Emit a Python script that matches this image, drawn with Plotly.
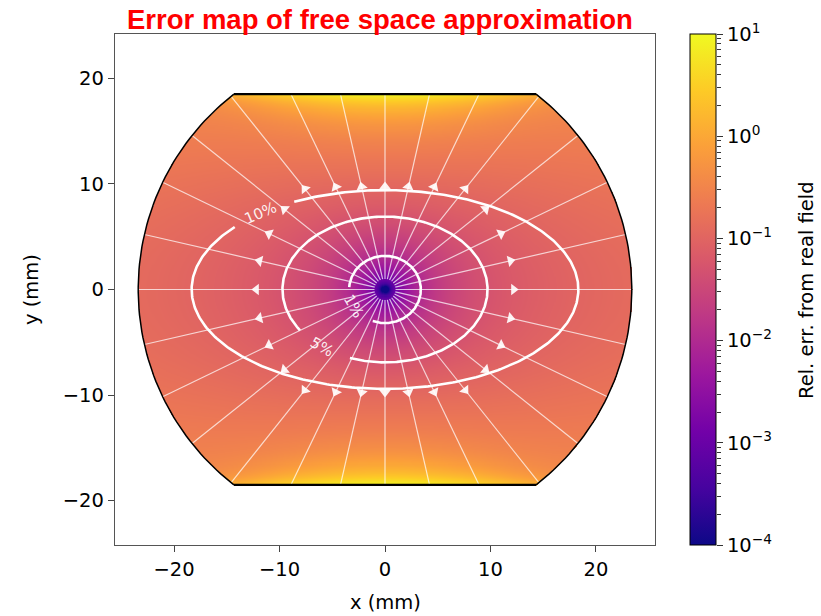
import numpy as np
import plotly.graph_objects as go

# ---------------- data / parameters ----------------
R_WALL = 23.4      # mm, radius of the curved wall
H_CAP = 18.5       # mm, half height of the flat end caps

# error model: radial profile F(r) evaluated on an anisotropic level parameter,
# plus a term that diverges towards the flat end caps
F_A, F_X0, F_Q = 0.001036, 10.0, 1.5
ANISO_K, ANISO_P = 0.0188, 0.67
CAP_D0, CAP_N, CAP_YD, CAP_SIG = 0.2, 8, 18.9, 10.0

CONTOUR_LEVELS = [0.01, 0.05, 0.10]
CONTOUR_TEXT = ["1%", "5%", "10%"]
LABEL_ANGLE_DEG = [209, 232, 130]           # position of the inline label on each contour
GAP_DEG = [(176, 250), (214, 250), (118, 141)]

CBAR_EXP = [-4, -3, -2, -1, 0, 1]
CBAR_LABELS = ["10<sup>\u22124</sup>", "10<sup>\u22123</sup>", "10<sup>\u22122</sup>",
               "10<sup>\u22121</sup>", "10<sup>0</sup>", "10<sup>1</sup>"]
X_TICKS = [-20, -10, 0, 10, 20]
Y_TICKS = [-20, -10, 0, 10, 20]
N_FIELD_LINES = 28
FIELD_START = 1.0

TITLE = "Error map of free space approximation"
X_LABEL = "x (mm)"
Y_LABEL = "y (mm)"
CBAR_TITLE = "Rel. err. from real field"


def F(r):
    return F_A * r ** 2 / (1 + (r / F_X0) ** F_Q)


def level_param(x, y):
    x2, y2 = x * x, y * y
    lo = x2 + y2
    hi = np.full_like(lo, 1e6)
    for _ in range(64):
        mid = 0.5 * (lo + hi)
        h = mid - x2 - y2 * (1 + ANISO_K * mid) ** ANISO_P
        neg = h < 0
        lo = np.where(neg, mid, lo)
        hi = np.where(neg, hi, mid)
    return 0.5 * (lo + hi)


def rel_err(x, y):
    c = level_param(x, y)
    ay = np.abs(y)
    cap = CAP_D0 * (ay / H_CAP) ** CAP_N / (1 - ay / CAP_YD) * np.exp(-(x / CAP_SIG) ** 2)
    return F(np.sqrt(c)) + cap


# heatmap grid
xs = np.round(np.arange(-23.5, 23.5001, 0.1), 3)
ys = np.round(np.arange(-18.5, 18.5001, 0.1), 3)
XX, YY = np.meshgrid(xs, ys)
E = rel_err(XX, YY)
Z = np.round(np.log10(np.clip(E, 1e-4, 10)), 4)
Z[XX ** 2 + YY ** 2 > R_WALL ** 2] = np.nan

# ---------------- figure ----------------
W, Hh = 821, 616
ML, MR, MT, MB = 115, 20, 34, 71
PW = W - ML - MR
PH = Hh - MT - MB
PLOT_W = 540


def px_x(p):
    return (p - ML) / PW


def px_y(p):
    return (Hh - MB - p) / PH


fig = go.Figure()

fig.add_trace(go.Heatmap(
    x=xs, y=ys, z=Z, zmin=-4, zmax=1, colorscale="Plasma",
    hoverinfo="skip",
    colorbar=dict(x=px_x(690), xanchor="left", xpad=0, ypad=0, thickness=26,
                  thicknessmode="pixels", len=1, lenmode="fraction", y=0.5,
                  yanchor="middle", ticks="", showticklabels=False,
                  outlinewidth=1, outlinecolor="black"),
))

# field lines
lx, ly, ax_, ay_, aang = [], [], [], [], []
for k in range(N_FIELD_LINES):
    th = 2 * np.pi * k / N_FIELD_LINES
    s = abs(np.sin(th))
    r_end = R_WALL if s < 1e-9 else min(R_WALL, H_CAP / s)
    rr = np.array([FIELD_START, r_end])
    lx += list(rr * np.cos(th)) + [None]
    ly += list(rr * np.sin(th)) + [None]
    rm = 0.5 * (FIELD_START + r_end)
    ax_.append(rm * np.cos(th))
    ay_.append(rm * np.sin(th))
    aang.append(90 - np.degrees(th))

fig.add_trace(go.Scatter(x=lx, y=ly, mode="lines",
                         line=dict(color="rgba(255,255,255,0.72)", width=1.2),
                         hoverinfo="skip", showlegend=False))
fig.add_trace(go.Scatter(x=ax_, y=ay_, mode="markers",
                         marker=dict(symbol="triangle-up", size=10, angle=aang,
                                     color="rgba(255,255,255,0.92)", line=dict(width=0)),
                         hoverinfo="skip", showlegend=False))

# iso-error contours (level sets of the model, with inline label gaps)
annotations = []
font_lab = dict(family="DejaVu Sans", size=15, color="rgba(255,255,255,0.92)")
for lev, txt, la, (g0, g1) in zip(CONTOUR_LEVELS, CONTOUR_TEXT, LABEL_ANGLE_DEG, GAP_DEG):
    lo, hi = 0.0, 60.0
    for _ in range(60):
        mid = 0.5 * (lo + hi)
        if F(mid) < lev:
            lo = mid
        else:
            hi = mid
    a = 0.5 * (lo + hi)
    b = a / (1 + ANISO_K * a * a) ** (ANISO_P / 2)
    phi = np.radians(np.linspace(g1, g0 + 360, 400))
    fig.add_trace(go.Scatter(x=a * np.cos(phi), y=b * np.sin(phi), mode="lines",
                             line=dict(color="white", width=2.6), hoverinfo="skip",
                             showlegend=False))
    p = np.radians(la)
    dx, dy = -a * np.sin(p), b * np.cos(p)
    ang = np.degrees(np.arctan2(dy, dx))
    if ang > 90:
        ang -= 180
    if ang <= -90:
        ang += 180
    annotations.append(dict(text=txt, x=a * np.cos(p), y=b * np.sin(p), xref="x", yref="y",
                            showarrow=False, textangle=-ang, font=font_lab,
                            xanchor="center", yanchor="middle"))

# boundary
xcorner = np.sqrt(R_WALL ** 2 - H_CAP ** 2)
phic = np.arctan2(H_CAP, xcorner)
t = np.linspace(-phic, phic, 80)
for sgn in (1, -1):
    fig.add_trace(go.Scatter(x=sgn * R_WALL * np.cos(t), y=R_WALL * np.sin(t), mode="lines",
                             line=dict(color="black", width=1.5), hoverinfo="skip",
                             showlegend=False))
    fig.add_trace(go.Scatter(x=[-xcorner, xcorner], y=[sgn * H_CAP, sgn * H_CAP], mode="lines",
                             line=dict(color="black", width=2.2), hoverinfo="skip",
                             showlegend=False))

# dummy trace for the colorbar tick axis
fig.add_trace(go.Scatter(x=[None], y=[None], yaxis="y2", showlegend=False, hoverinfo="skip"))

font_ax = dict(family="DejaVu Sans", size=19.5, color="black")
minor_vals = [m * 10.0 ** e for e in range(-4, 1) for m in range(2, 10)]

annotations += [
    dict(text="<b>%s</b>" % TITLE, x=px_x(380), y=px_y(20), xref="paper", yref="paper",
         showarrow=False, xanchor="center", yanchor="middle",
         font=dict(family="Liberation Sans, Arial", size=27.5, color="red")),
    dict(text=X_LABEL, x=px_x(385), y=px_y(603), xref="paper", yref="paper",
         showarrow=False, xanchor="center", yanchor="middle", font=font_ax),
    dict(text=Y_LABEL, x=px_x(31), y=px_y(290), xref="paper", yref="paper",
         showarrow=False, xanchor="center", yanchor="middle", textangle=-90, font=font_ax),
    dict(text=CBAR_TITLE, x=px_x(806), y=px_y(290), xref="paper", yref="paper",
         showarrow=False, xanchor="center", yanchor="middle", textangle=-90, font=font_ax),
]

fig.update_layout(
    width=W, height=Hh, margin=dict(l=ML, r=MR, t=MT, b=MB),
    paper_bgcolor="white", plot_bgcolor="white", showlegend=False,
    xaxis=dict(domain=[0, PLOT_W / PW], range=[-25.6, 25.6], tickvals=X_TICKS,
               ticks="outside", ticklen=6, tickwidth=1.2, tickcolor="#444",
               showline=True, mirror=True, linecolor="#555", linewidth=1.3,
               showgrid=False, zeroline=False, tickfont=font_ax),
    yaxis=dict(domain=[0, 1], range=[-24.2, 24.2], tickvals=Y_TICKS,
               ticks="outside", ticklen=6, tickwidth=1.2, tickcolor="#444",
               showline=True, mirror=True, linecolor="#555", linewidth=1.3,
               showgrid=False, zeroline=False, tickfont=font_ax),
    yaxis2=dict(overlaying="y", anchor="free", position=px_x(716), side="right",
                type="log", range=[-4, 1],
                tickvals=[10.0 ** e for e in CBAR_EXP], ticktext=CBAR_LABELS,
                ticks="outside", ticklen=6, tickwidth=1.2, tickcolor="#333",
                minor=dict(tickvals=minor_vals, ticks="outside", ticklen=3.5,
                           tickwidth=1, tickcolor="#333"),
                showgrid=False, showline=False, zeroline=False, tickfont=font_ax),
    annotations=annotations,
)

fig.write_html("out.html", config={"displayModeBar": False},
               post_script="document.body.style.margin='0px';")
